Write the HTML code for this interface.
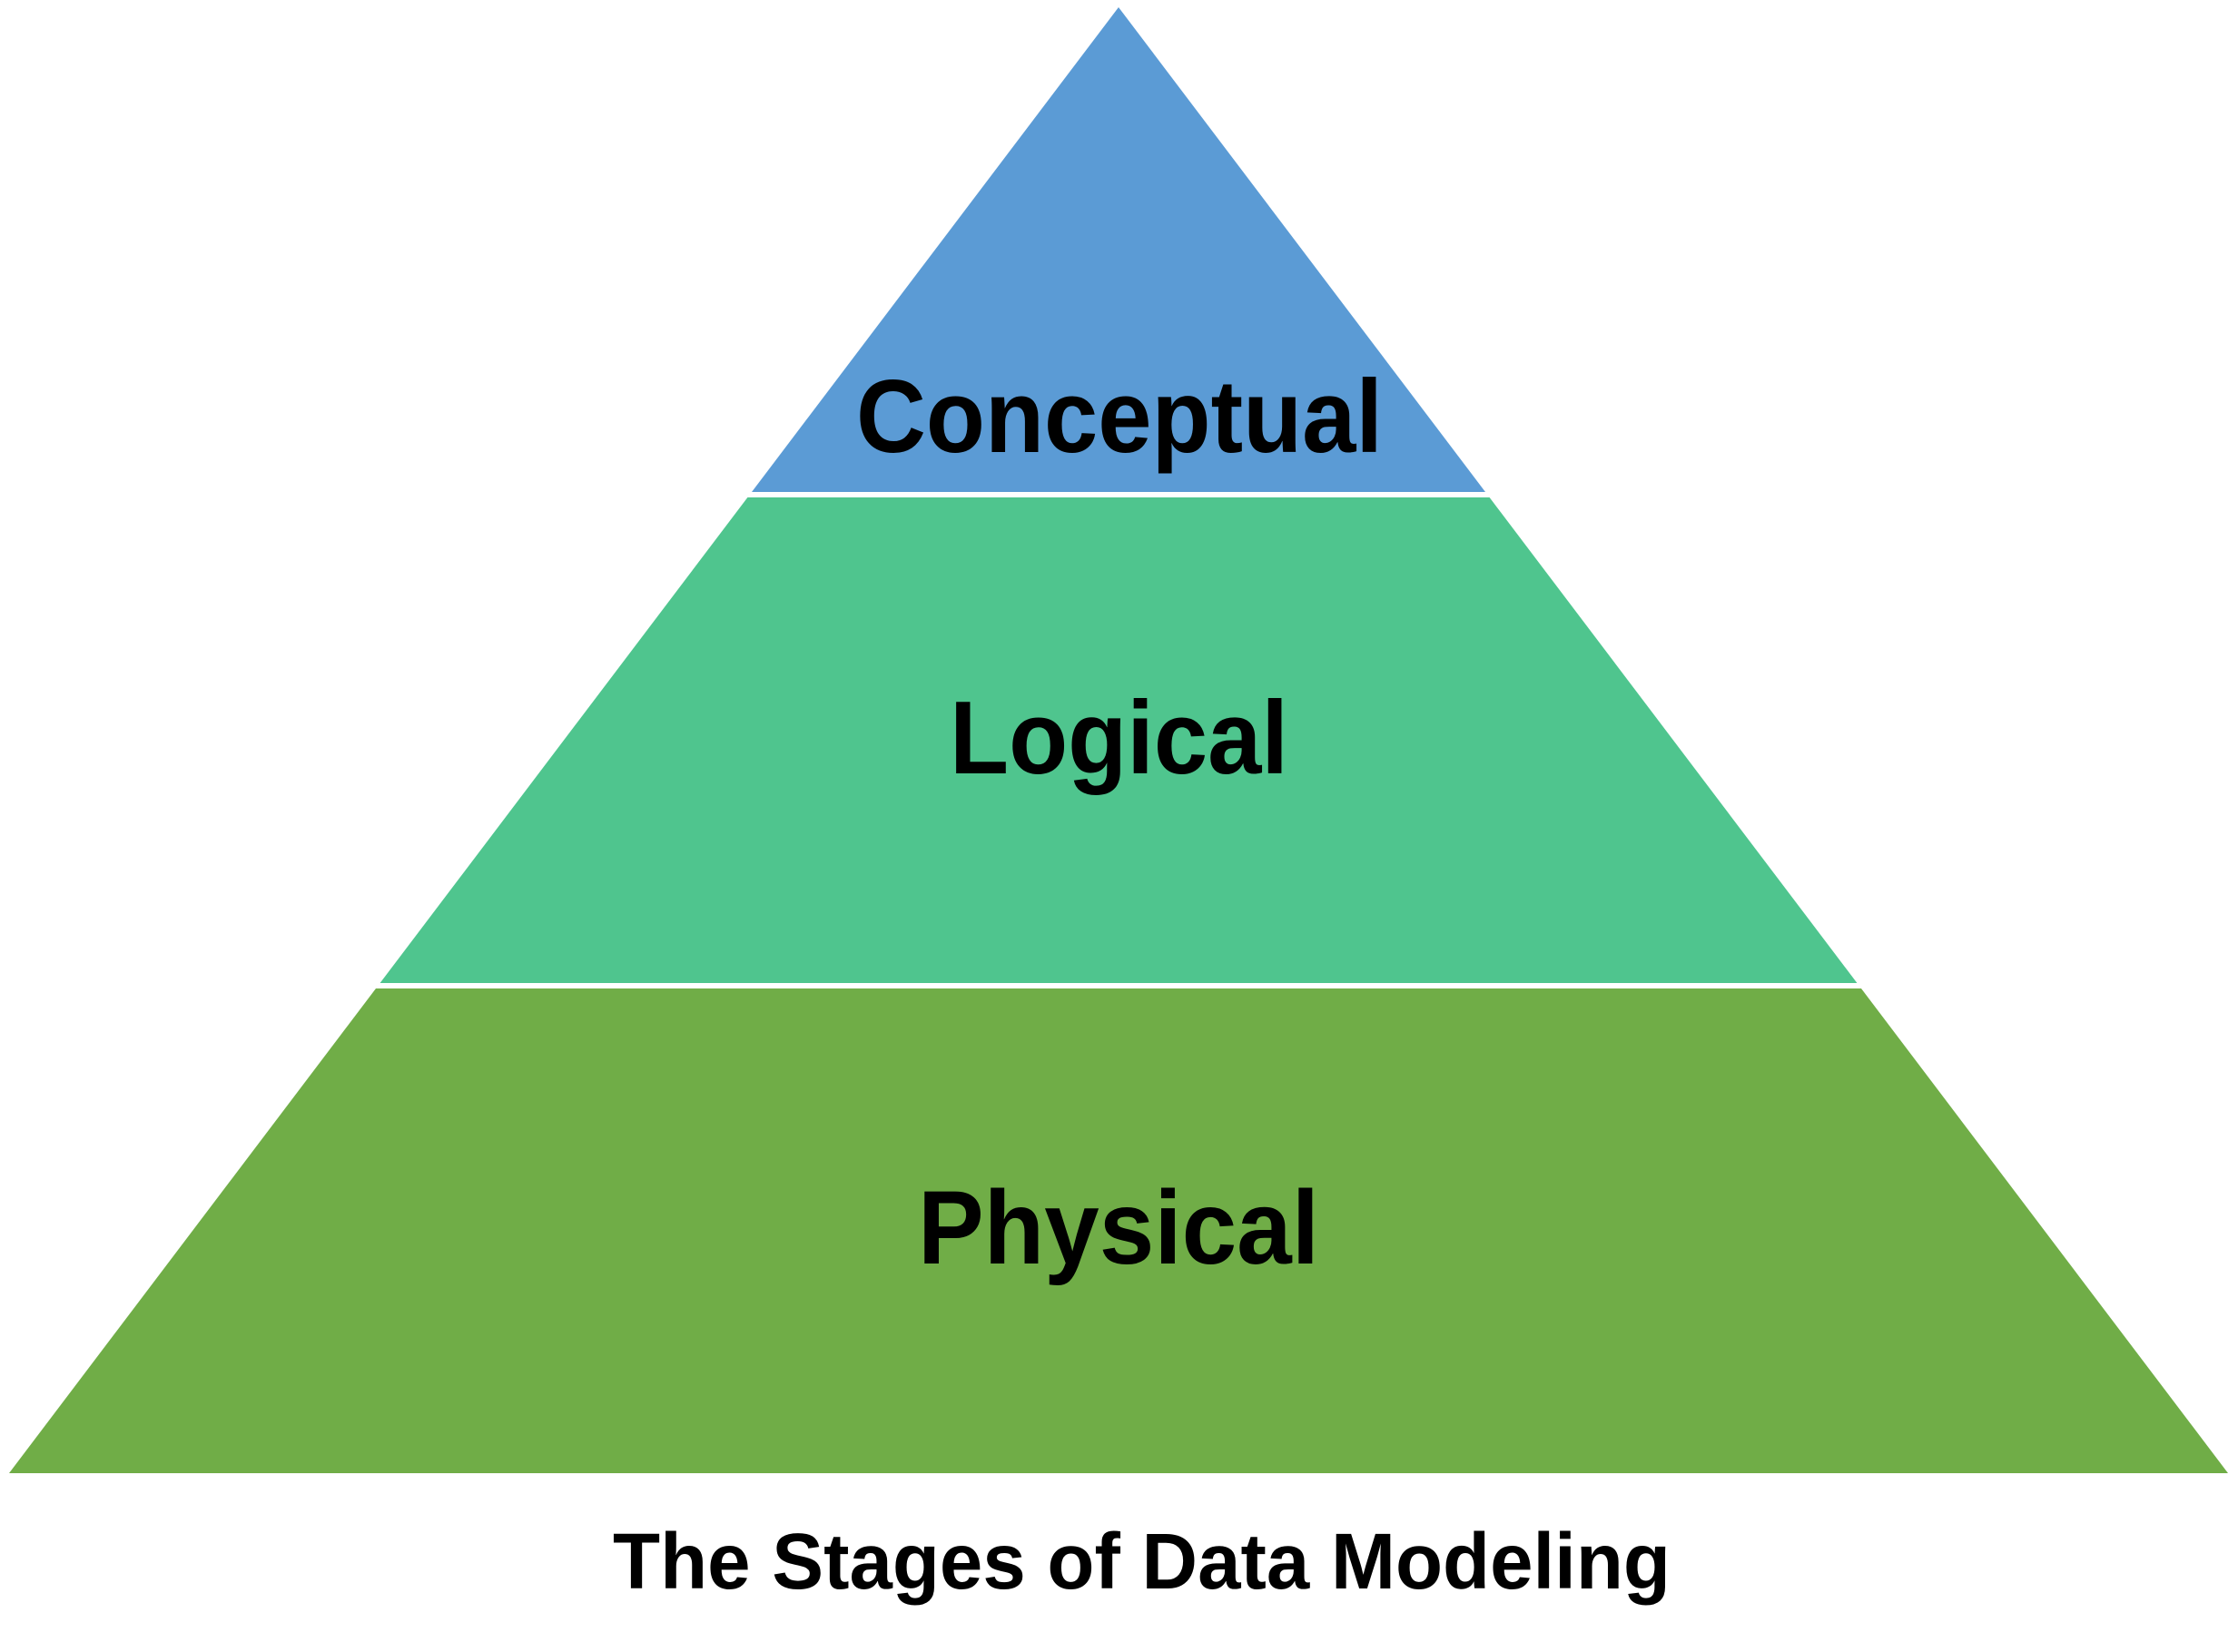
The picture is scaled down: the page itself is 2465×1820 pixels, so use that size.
<!DOCTYPE html>
<html>
<head>
<meta charset="utf-8">
<style>
  html, body { margin: 0; padding: 0; background: #ffffff; }
  body { width: 2465px; height: 1820px; overflow: hidden; }
  svg { display: block; }
  text { font-family: "Liberation Sans", "DejaVu Sans", sans-serif; font-weight: bold; fill: #000000; }
</style>
</head>
<body>
<svg width="2465" height="1820" viewBox="0 0 2465 1820" xmlns="http://www.w3.org/2000/svg">
  <rect x="0" y="0" width="2465" height="1820" fill="#ffffff"/>
  <!-- Conceptual (top) -->
  <polygon points="1232,8 1636,542 828,542" fill="#5B9BD5"/>
  <!-- Logical (middle) -->
  <polygon points="823.4,548 1640.6,548 2045.4,1083 418.6,1083" fill="#4FC58E"/>
  <!-- Physical (bottom) -->
  <polygon points="414,1089 2050,1089 2454,1623 10,1623" fill="#70AD47"/>

  <text x="943" y="498" font-size="114" textLength="580" lengthAdjust="spacingAndGlyphs">Conceptual</text>
  <text x="1046" y="852" font-size="114" textLength="373" lengthAdjust="spacingAndGlyphs">Logical</text>
  <text x="1011" y="1392" font-size="115" textLength="442" lengthAdjust="spacingAndGlyphs">Physical</text>

  <text x="675" y="1750" font-size="87" textLength="1165" lengthAdjust="spacingAndGlyphs">The Stages of Data Modeling</text>
</svg>
</body>
</html>
